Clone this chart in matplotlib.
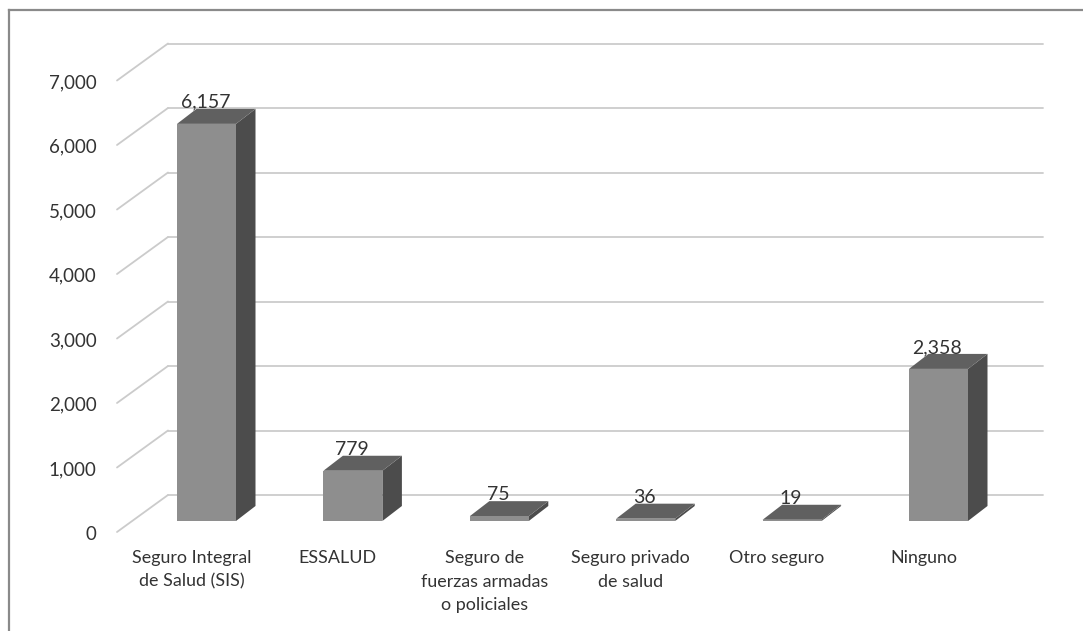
import matplotlib
matplotlib.use("Agg")
import matplotlib.pyplot as plt
from matplotlib.patches import Polygon
from matplotlib.ticker import FuncFormatter

plt.rcParams['font.family'] = ['Lato', 'DejaVu Sans']

categories = ["Seguro Integral\nde Salud (SIS)", "ESSALUD", "Seguro de\nfuerzas armadas\no policiales",
              "Seguro privado\nde salud", "Otro seguro", "Ninguno"]
values = [6157, 779, 75, 36, 19, 2358]
ticks = [0, 1000, 2000, 3000, 4000, 5000, 6000, 7000]

W, H = 1083, 631
PX_PER_CAT = 146.4      # pixels per category
PX_PER_UNIT = 0.0645    # pixels per value unit
X0, Y0 = 206.5, 521     # pixel of category 0 / value 0 on the front plane

fig = plt.figure(figsize=(W / 100, H / 100), dpi=100, facecolor='white')
ax = fig.add_axes([0, 0, 1, 1])
ax.set_xlim(-X0 / PX_PER_CAT, (W - X0) / PX_PER_CAT)
ax.set_ylim((Y0 - H) / PX_PER_UNIT, Y0 / PX_PER_UNIT)
ax.axis('off')

def dx(px):
    return px / PX_PER_CAT

def dy(px):
    return px / PX_PER_UNIT

# chart frame: left and top only
FRAME = dict(color='#8a8a8a', lw=1.6, zorder=1)
ax.plot([dx(9 - X0)] * 2, [dy(Y0 - H), dy(Y0 - 10)], **FRAME)
ax.plot([dx(9 - X0), dx(W - X0)], [dy(Y0 - 10)] * 2, **FRAME)

# wall and gridlines
WALL = dict(color='#cbcbcb', lw=1.3, zorder=2, solid_capstyle='round')
for t in ticks:
    ax.plot([dx(117 - X0), dx(168 - X0)], [t + dy(-11), t + dy(26)], **WALL)
    ax.plot([dx(168 - X0), dx(1043 - X0)], [t + dy(26), t + dy(26)], **WALL)
    ax.text(dx(96.5 - X0), t + dy(-13), FuncFormatter(lambda v, _: f"{int(v):,}")(t),
            ha='right', va='center', fontsize=13.5, color='#333333', zorder=6)

# 3D bars
half = dx(29.5)
ddx, ddy = dx(19.5), dy(15)
for i, (cat, v) in enumerate(zip(categories, values)):
    l, r = i - half, i + half
    ax.add_patch(Polygon([(r, 0), (r + ddx, ddy), (r + ddx, v + ddy), (r, v)],
                         fc='#4c4c4c', ec='none', zorder=3))
    ax.add_patch(Polygon([(l, v), (r, v), (r + ddx, v + ddy), (l + ddx, v + ddy)],
                         fc='#606060', ec='none', zorder=3))
    ax.add_patch(Polygon([(l, 0), (r, 0), (r, v), (l, v)],
                         fc='#8e8e8e', ec='none', zorder=4))
    ax.text(i + dx(-1), v + dy(21.5), f"{v:,}", ha='center', va='center',
            fontsize=14, color='#333333', zorder=6)
    ax.text(i + dx(-15), dy(-29), cat, ha='center', va='top', fontsize=12.9,
            color='#333333', linespacing=1.58, zorder=6)

fig.savefig("out.png", dpi=100)
